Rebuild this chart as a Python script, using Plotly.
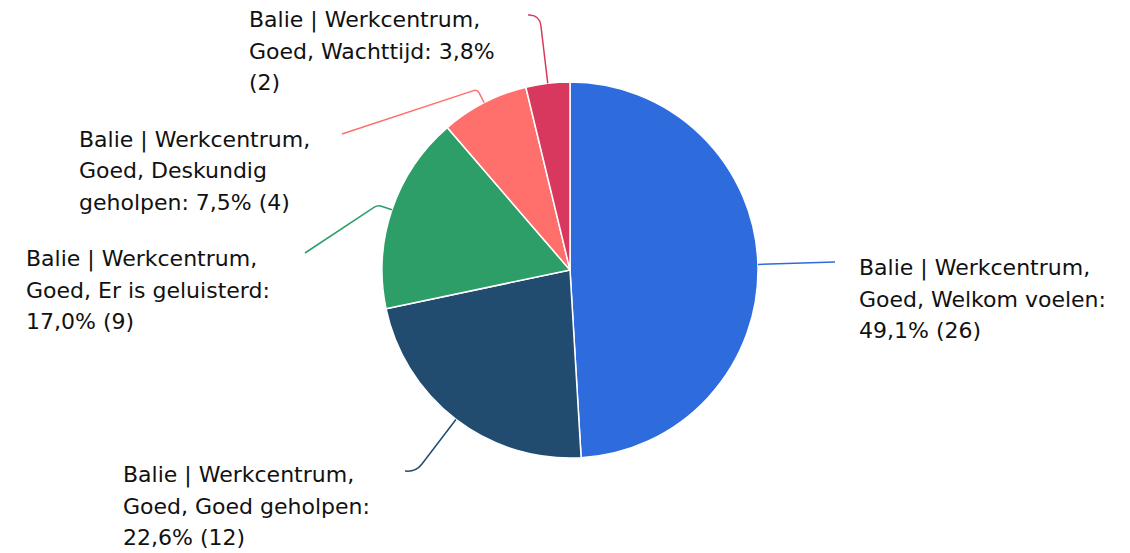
import math
import textwrap
import plotly.graph_objects as go

# ---------------- data ----------------
categories = [
    "Balie | Werkcentrum, Goed, Welkom voelen",
    "Balie | Werkcentrum, Goed, Goed geholpen",
    "Balie | Werkcentrum, Goed, Er is geluisterd",
    "Balie | Werkcentrum, Goed, Deskundig geholpen",
    "Balie | Werkcentrum, Goed, Wachttijd",
]
counts = [26, 12, 9, 4, 2]

# ---------------- style / layout ----------------
colors = ["#2e6bdd", "#214c70", "#2e9e68", "#ff6f6b", "#d9385e"]
W, H = 1130, 553
CX, CY, R = 570, 270, 188
FONT = "DejaVu Sans"
FSIZE = 22
LINE_GAP = 31
WRAP = 23
# label anchor (left x, first line centre y) in pixels
label_pos = [(858, 268), (122, 475), (25, 259), (78, 140), (248, 20)]
# connector: radial knee length and end point in pixels
knee_len = [20, 66, 15, 15, 68]
conn_end = [(835, 262), (405, 471), (305, 253), (342, 134), (528, 15)]
corner = [0, 10, 4, 4, 10]


def px(x):
    return x / W


def py(y):
    return 1 - y / H


fig = go.Figure(
    go.Pie(
        labels=categories,
        values=counts,
        sort=False,
        direction="clockwise",
        rotation=0,
        marker=dict(colors=colors, line=dict(color="white", width=1.5)),
        textinfo="none",
        hoverinfo="label+percent+value",
        showlegend=False,
        domain=dict(x=[px(CX - R), px(CX + R)], y=[py(CY + R), py(CY - R)]),
    )
)

total = sum(counts)
cum = 0
shapes = []
annotations = []
for i, (cat, n) in enumerate(zip(categories, counts)):
    mid = (cum + n / 2) / total * 2 * math.pi
    cum += n
    sx, sy = CX + R * math.sin(mid), CY - R * math.cos(mid)
    kx = sx + knee_len[i] * math.sin(mid)
    ky = sy - knee_len[i] * math.cos(mid)
    ex, ey = conn_end[i]
    c = corner[i]
    d1 = math.hypot(kx - sx, ky - sy) or 1
    d2 = math.hypot(ex - kx, ey - ky) or 1
    p1 = (kx - (kx - sx) / d1 * c, ky - (ky - sy) / d1 * c)
    p2 = (kx + (ex - kx) / d2 * c, ky + (ey - ky) / d2 * c)
    path = (
        f"M {px(sx)},{py(sy)} L {px(p1[0])},{py(p1[1])} "
        f"Q {px(kx)},{py(ky)} {px(p2[0])},{py(p2[1])} L {px(ex)},{py(ey)}"
    )
    shapes.append(
        dict(type="path", xref="paper", yref="paper", path=path,
             line=dict(color=colors[i], width=1.5))
    )

    pct = f"{n / total * 100:.1f}".replace(".", ",")
    full = f"{cat}: {pct}% ({n})"
    lines = textwrap.wrap(full, WRAP)
    lx, ly = label_pos[i]
    for j, line in enumerate(lines):
        annotations.append(
            dict(
                x=px(lx), y=py(ly + j * LINE_GAP), xref="paper", yref="paper",
                text=line, showarrow=False, xanchor="left", yanchor="middle",
                font=dict(family=FONT, size=FSIZE, color="#111111"),
                borderpad=0,
            )
        )

fig.update_layout(
    width=W,
    height=H,
    margin=dict(l=0, r=0, t=0, b=0),
    paper_bgcolor="white",
    plot_bgcolor="white",
    shapes=shapes,
    annotations=annotations,
)

fig.write_html(
    "out.html",
    config={"displayModeBar": False},
    post_script="document.body.style.margin='0';document.body.style.overflow='hidden';",
)
